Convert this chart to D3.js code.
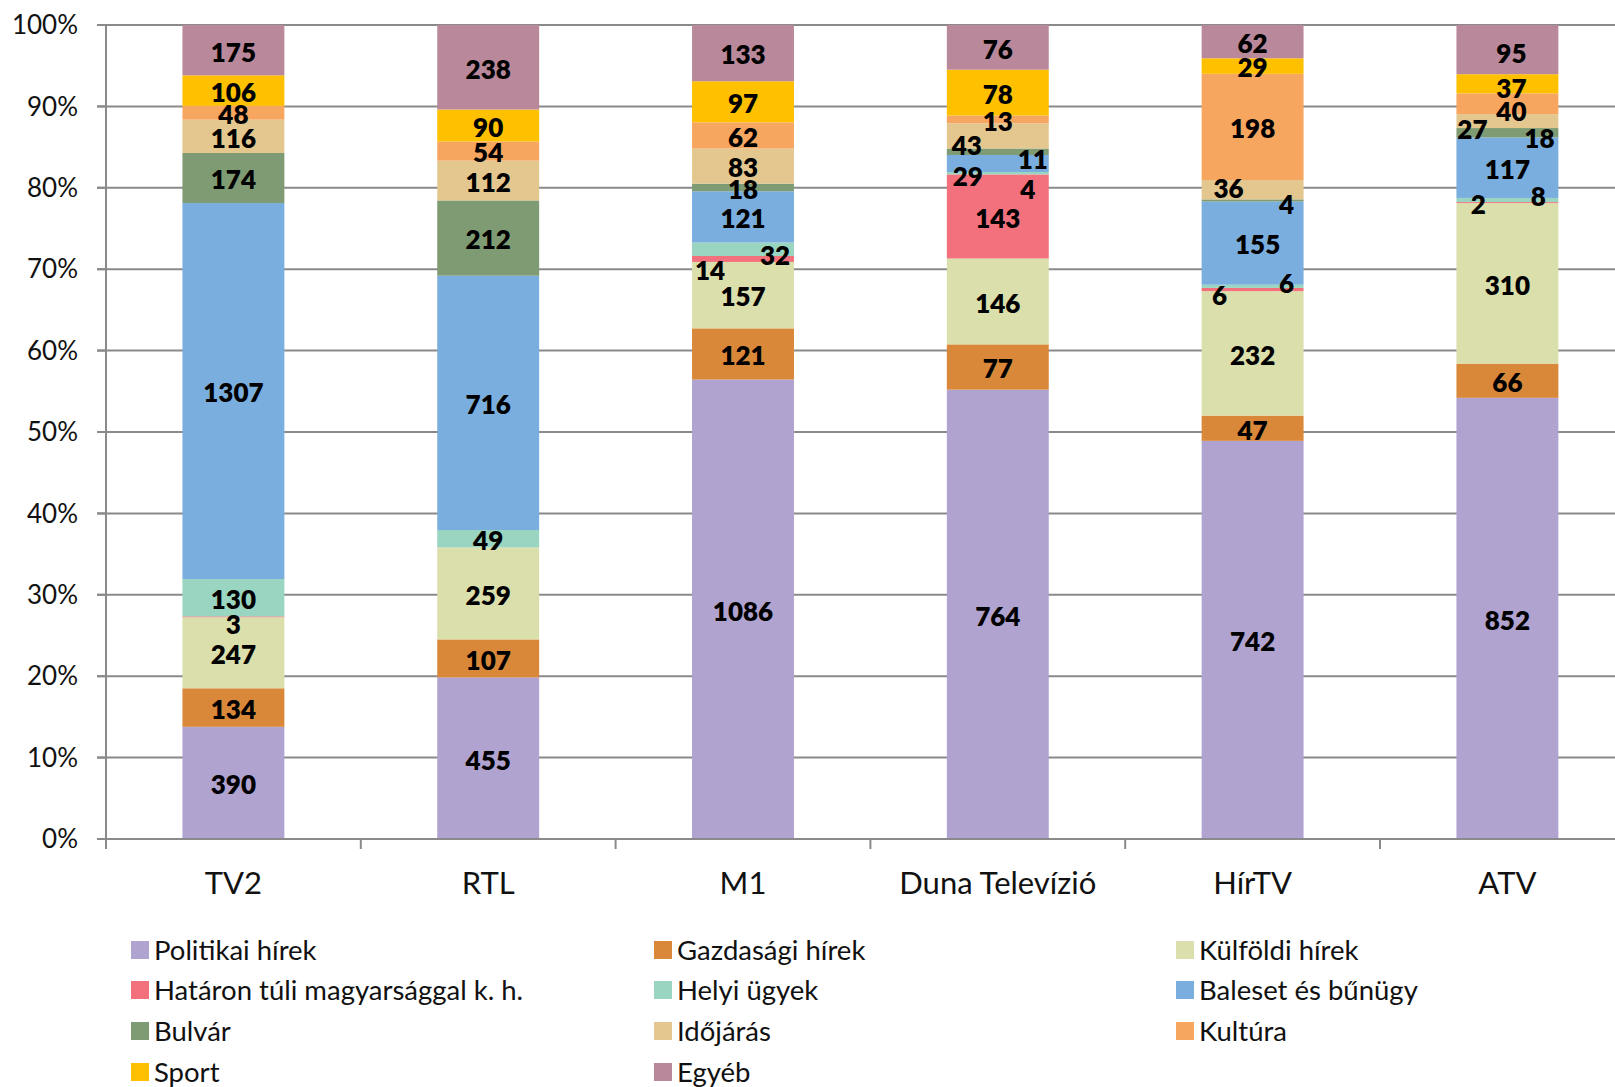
<!DOCTYPE html>
<html>
<head>
<meta charset="utf-8">
<script src="https://cdn.jsdelivr.net/npm/d3@7/dist/d3.min.js"></script>
<style>
  html, body { margin: 0; padding: 0; background: #fff; }
  svg { display: block; font-family: Lato, "Open Sans", sans-serif; }
</style>
</head>
<body>
<svg id="chart" width="1615" height="1087"></svg>
<script>
// ---- data ----
const categories = ["TV2", "RTL", "M1", "Duna Televízió", "HírTV", "ATV"];
const seriesNames = [
  "Politikai hírek", "Gazdasági hírek", "Külföldi hírek",
  "Határon túli magyarsággal k. h.", "Helyi ügyek", "Baleset és bűnügy",
  "Bulvár", "Időjárás", "Kultúra", "Sport", "Egyéb"
];
const politikai  = [390, 455, 1086, 764, 742, 852];
const gazdasagi  = [134, 107, 121, 77, 47, 66];
const kulfoldi   = [247, 259, 157, 146, 232, 310];
const hataron    = [3, 0, 14, 143, 6, 2];
const helyi      = [130, 49, 32, 4, 6, 8];
const baleset    = [1307, 716, 121, 29, 155, 117];
const bulvar     = [174, 212, 18, 11, 4, 18];
const idojaras   = [116, 112, 83, 43, 36, 27];
const kultura    = [48, 54, 62, 13, 198, 40];
const sport      = [106, 90, 97, 78, 29, 37];
const egyeb      = [175, 238, 133, 76, 62, 95];
const seriesValues = [politikai, gazdasagi, kulfoldi, hataron, helyi, baleset,
                      bulvar, idojaras, kultura, sport, egyeb];
const yTickLabels = ["0%", "10%", "20%", "30%", "40%", "50%", "60%", "70%", "80%", "90%", "100%"];

// ---- styles ----
const colors = ["#b0a3d0", "#d9883a", "#dbdfab", "#f3717c", "#99d5c0", "#7aaede",
                "#7f9b74", "#e4c78e", "#f7a660", "#ffc000", "#b9889b"];
// manual label nudges [categoryIndex, seriesIndex, dx, dy]
const labelNudges = [
  [0, 3, 0, 6],
  [2, 3, -33, 10], [2, 4, 32, 4],
  [3, 4, 30, 14], [3, 5, -30, 11], [3, 6, 35, 6], [3, 7, -31, 8],
  [4, 3, -33, 4], [4, 4, 34, -5], [4, 5, 5, 0], [4, 6, 34, 2], [4, 7, -24, -3],
  [5, 10, 4, 2], [5, 9, 4, 3], [5, 8, 4, 6], [5, 7, -35, 7], [5, 6, 32, 4],
  [5, 4, 31, -5], [5, 3, -29, 0]
];
const nudge = (c, s) => {
  const n = labelNudges.find(d => d[0] === c && d[1] === s);
  return n ? [n[2], n[3]] : [0, 0];
};

(function () {
const svg = d3.select("#chart");
const left = 106, plotTop = 25, plotBottom = 839;
const step = 254.8;

const x = d3.scaleBand().domain(categories)
  .range([left, left + step * categories.length])
  .paddingInner(0.6).paddingOuter(0.3);
const y = d3.scaleLinear().domain([0, 1]).range([plotBottom, plotTop]);

const table = categories.map((c, i) => {
  const row = { cat: c };
  seriesNames.forEach((s, j) => row[s] = seriesValues[j][i]);
  return row;
});
const stack = d3.stack().keys(seriesNames).offset(d3.stackOffsetExpand);
const layers = stack(table);

const gridColor = "#8a8a8a";
svg.append("g").selectAll("line")
  .data(d3.range(1, 11).map(d => d / 10))
  .join("line")
  .attr("x1", left - 9).attr("x2", 1615)
  .attr("y1", d => y(d)).attr("y2", d => y(d))
  .attr("stroke", gridColor).attr("stroke-width", 2);

const gBars = svg.append("g");
layers.forEach((layer, j) => {
  gBars.append("g").attr("fill", colors[j])
    .selectAll("rect").data(layer).join("rect")
    .attr("x", d => x(d.data.cat))
    .attr("width", x.bandwidth())
    .attr("y", d => y(d[1]))
    .attr("height", d => Math.max(0, y(d[0]) - y(d[1])));
});

svg.append("line").attr("x1", left).attr("x2", left).attr("y1", plotTop).attr("y2", plotBottom + 10)
  .attr("stroke", gridColor).attr("stroke-width", 2);
svg.append("line").attr("x1", left - 9).attr("x2", 1615).attr("y1", plotBottom).attr("y2", plotBottom)
  .attr("stroke", gridColor).attr("stroke-width", 2);
svg.append("g").selectAll("line").data(d3.range(0, 11).map(d => d / 10)).join("line")
  .attr("x1", left - 9).attr("x2", left).attr("y1", d => y(d)).attr("y2", d => y(d))
  .attr("stroke", gridColor).attr("stroke-width", 2);
svg.append("g").selectAll("line").data(d3.range(1, categories.length + 1)).join("line")
  .attr("x1", i => left + step * i).attr("x2", i => left + step * i)
  .attr("y1", plotBottom).attr("y2", plotBottom + 10)
  .attr("stroke", gridColor).attr("stroke-width", 2);

svg.append("g").selectAll("text").data(yTickLabels).join("text")
  .attr("x", 78).attr("y", (d, i) => y(i / 10))
  .attr("dy", "0.35em").attr("text-anchor", "end")
  .attr("font-size", 26).attr("fill", "#111")
  .text(d => d);

svg.append("g").selectAll("text").data(categories).join("text")
  .attr("x", d => x(d) + x.bandwidth() / 2).attr("y", 894)
  .attr("text-anchor", "middle").attr("font-size", 31).attr("fill", "#111")
  .text(d => d);

const gLab = svg.append("g").attr("font-weight", 800).attr("font-size", 26)
  .attr("text-anchor", "middle").attr("fill", "#000");
layers.forEach((layer, j) => {
  layer.forEach((d, i) => {
    const v = seriesValues[j][i];
    if (!v) return;
    const [dx, dy] = nudge(i, j);
    gLab.append("text")
      .attr("x", x(d.data.cat) + x.bandwidth() / 2 + dx)
      .attr("y", y((d[0] + d[1]) / 2) + dy + 2)
      .attr("dy", "0.36em")
      .text(v);
  });
});

const legX = [131, 654, 1176];
const legRowY = [950, 990, 1031, 1072];
const leg = svg.append("g").selectAll("g").data(seriesNames).join("g")
  .attr("transform", (d, i) => `translate(${legX[i % 3]},${legRowY[Math.floor(i / 3)]})`);
leg.append("rect").attr("x", 0).attr("y", -9).attr("width", 18).attr("height", 18)
  .attr("fill", (d, i) => colors[i]);
leg.append("text").attr("x", 23).attr("y", 0).attr("dy", "0.35em")
  .attr("font-size", 27.5).attr("fill", "#111").text(d => d);
})();
</script>
</body>
</html>
